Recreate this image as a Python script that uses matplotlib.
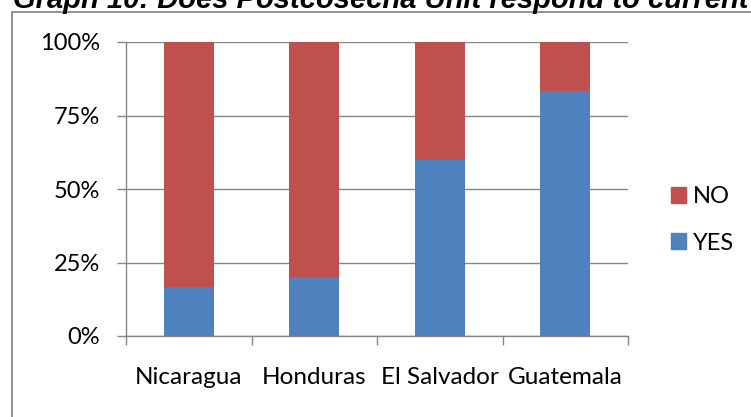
import numpy as np
import matplotlib.pyplot as plt
from matplotlib.patches import Rectangle, Patch

# data (share of answers, %)
countries = ['Nicaragua', 'Honduras', 'El Salvador', 'Guatemala']
yes_pct = [16.7, 20.0, 60.0, 83.3]
no_pct = [83.3, 80.0, 40.0, 16.7]
y_ticks = [0, 25, 50, 75, 100]
y_labels = ['0%', '25%', '50%', '75%', '100%']
title = 'Graph 10: Does Postcosecha Unit respond to current needs?'

blue = '#4F81BD'
red = '#C0504D'
gray = '#868686'

plt.rcParams['font.family'] = ['Lato', 'DejaVu Sans']

fig = plt.figure(figsize=(7.51, 4.17), dpi=100)
ax = fig.add_axes([126/751, 1-336/417, 502/751, 294/417])

x = np.arange(len(countries))
ax.bar(x, yes_pct, width=0.4, color=blue, zorder=3)
ax.bar(x, no_pct, width=0.4, bottom=yes_pct, color=red, zorder=3)

ax.set_xlim(-0.5, len(countries) - 0.5)
ax.set_ylim(0, 100)
ax.set_yticks(y_ticks)
ax.set_yticklabels(y_labels)
ax.yaxis.grid(True, color=gray, linewidth=1.0, zorder=0)

# category labels between the boundary ticks
ax.set_xticks(np.arange(len(countries) + 1) - 0.5)
ax.set_xticklabels([])
ax.set_xticks(x, minor=True)
ax.set_xticklabels(countries, minor=True)
ax.tick_params(axis='x', which='minor', length=0, pad=22, labelsize=17.5)
ax.tick_params(axis='x', which='major', length=6.5, width=1.0, color=gray)
ax.tick_params(axis='y', length=6.5, width=1.0, color=gray, pad=12, labelsize=17)

for s in ['top', 'right']:
    ax.spines[s].set_visible(False)
for s in ['left', 'bottom']:
    ax.spines[s].set_color(gray)
    ax.spines[s].set_linewidth(1.0)

handles = [Patch(color=red, label='NO'), Patch(color=blue, label='YES')]
fig.legend(handles=handles, loc='center left', bbox_to_anchor=(671/751, 1-220/417),
           frameon=False, fontsize=17, handlelength=0.64, handleheight=0.64,
           handletextpad=0.3, labelspacing=1.06, borderpad=0, borderaxespad=0)

# chart frame (runs off the right and bottom edges)
fig.patches.append(Rectangle((12/751, -0.1), 1.2, 1-12/417+0.1, transform=fig.transFigure,
                             fill=False, edgecolor='#7F7F7F', linewidth=1.2))

fig.text(13/751, 1-8/417, title, fontsize=21, fontweight='bold', fontstyle='italic',
         family=['Liberation Sans', 'DejaVu Sans'], va='baseline', ha='left')

plt.savefig('out.png', dpi=100)
